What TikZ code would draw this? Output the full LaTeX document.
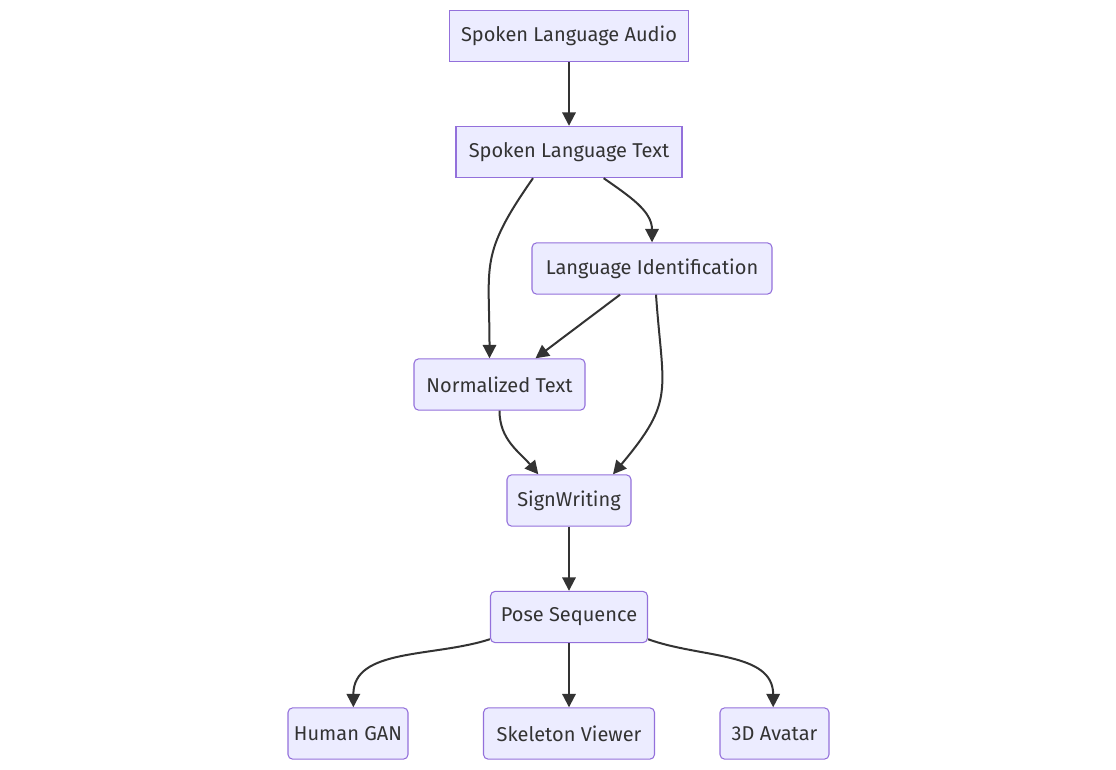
\documentclass[tikz,border=0pt]{standalone}
\usepackage{fontspec}
\setmainfont{Fira Sans}
\usetikzlibrary{arrows.meta}
\definecolor{boxfill}{HTML}{ECECFF}
\definecolor{boxline}{HTML}{9370DB}
\definecolor{ink}{HTML}{333333}
\begin{document}
\begin{tikzpicture}[x=0.75pt, y=-0.75pt,
   box/.style={draw=boxline, fill=boxfill, line width=0.8pt, text=ink, inner sep=0pt, minimum height=38.5pt, font=\fontsize{15}{18}\selectfont},
   rbox/.style={box, rounded corners=3.5pt},
   arr/.style={draw=ink, line width=1.5pt, -{Triangle[length=10pt,width=10pt]}}]
\useasboundingbox (0,0) rectangle (1116,770);

  \begin{scope}
\node[box,  minimum width=179pt]    (audio)  at (569,36)    {Spoken Language Audio};
\node[box,  minimum width=169.5pt]  (text)   at (569,152)   {Spoken Language Text};
\node[rbox, minimum width=180pt]    (langid) at (652,268.5) {Language Identification};
\node[rbox, minimum width=128.25pt] (norm)   at (499.5,384.5) {Normalized Text};
\node[rbox, minimum width=93pt]     (signw)  at (569,500.5) {SignWriting};
\node[rbox, minimum width=117.75pt] (pose)   at (569,617) {Pose Sequence};
\node[rbox, minimum width=90pt]     (gan)    at (348,733.5) {Human GAN};
\node[rbox, minimum width=128.25pt] (skel)   at (569,733.5) {Skeleton Viewer};
\node[rbox, minimum width=81.75pt]  (avatar) at (774.5,733.5) {3D Avatar};

\foreach \a/\b in {audio/text, signw/pose, pose/skel}
       \draw[arr] (\a) -- (\b);

\draw[arr] ([xshift=-27pt]text.south) to[out=-125, in=90, looseness=1.3] ([xshift=-7.5pt]norm.north);
\draw[arr] ([xshift=26pt]text.south) to[out=-35, in=90] (langid.north);
\draw[arr] ([xshift=-24pt]langid.south) -- ([xshift=27pt]norm.north);
\draw[arr] ([xshift=3pt]langid.south) to[out=-86, in=50, looseness=1.35] ([xshift=33pt]signw.north);
\draw[arr] (norm.south) to[out=-90, in=130] ([xshift=-23pt]signw.north);
\draw[arr] ([yshift=3pt]pose.south west) to[out=-162, in=90] ([xshift=4pt]gan.north);
\draw[arr] ([yshift=3pt]pose.south east) to[out=-20, in=90] ([xshift=-1pt]avatar.north);
  \end{scope}
\end{tikzpicture}
\end{document}
